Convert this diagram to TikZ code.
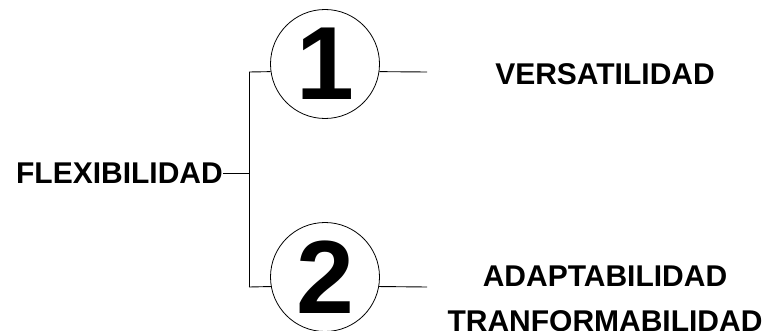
\documentclass[tikz,border=0pt]{standalone}
\usepackage{fontspec}
\setmainfont{Liberation Sans}
\usetikzlibrary{ positioning, % For easy node-relative placements
               }
\tikzstyle{concept} = [font=\fontsize{30}{45}\selectfont\bfseries, inner sep=0pt, align=center]
\tikzstyle{number} = [circle, minimum size=109pt, inner sep=0pt, draw=black, line width=0.8pt,
                      font=\fontsize{104}{104}\selectfont\bfseries]
\tikzstyle{branch} = [draw=black, line width=0.9pt]

\begin{document}
\begin{tikzpicture}[x=1pt, y=1pt]
  \useasboundingbox (0, 0) rectangle (770, 330);

  \node (flex) [concept, anchor=east] at (223, 157) {FLEXIBILIDAD};
  \coordinate (j0) at (249, 157);
  \coordinate (j1) at (249, 258);
  \coordinate (j2) at (249, 43);
  \path [branch] (flex.east) -- (j0);
  \path [branch] (j1) -- (j2);

  \node (one) [number] at (325, 266) {1};
  \node (two) [number] at (325, 53) {2};
  \path [branch] (j1) -- (one.188);
  \path [branch] (j2) -- (two.190);

  \coordinate (e1) at (427, 258);
  \coordinate (e2) at (427, 43);
  \path [branch] (one.352) -- (e1);
  \path [branch] (two.350) -- (e2);

  \node (vers) [concept] at (605, 256) {VERSATILIDAD};
  \node (adap) [concept] at (605, 31) {ADAPTABILIDAD\\TRANFORMABILIDAD};
\end{tikzpicture}
\end{document}
